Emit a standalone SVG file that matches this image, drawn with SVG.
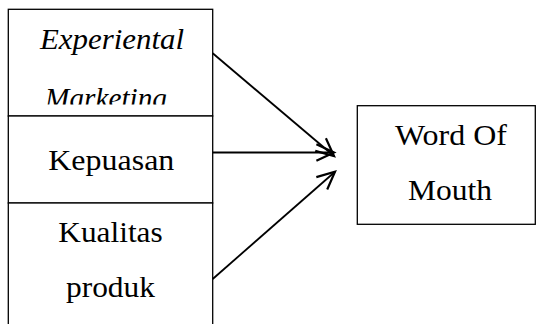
<svg xmlns="http://www.w3.org/2000/svg" width="536" height="324" viewBox="0 0 536 324">
<style>
.box{fill:#fff;stroke:#000;stroke-width:1.3}
.t{font-family:"Liberation Serif","Times New Roman",serif;font-size:29px;fill:#000;text-anchor:middle}
.i{font-style:italic}
.c{fill:none;stroke:#000;stroke-width:1.8}
</style>
<defs>
<marker id="ah" markerUnits="userSpaceOnUse" markerWidth="22" markerHeight="22" refX="17" refY="9" orient="auto" viewBox="0 0 20 18">
<path d="M1,1.5 L17,9 L1,16.5" fill="none" stroke="#000" stroke-width="2"/>
</marker>
<clipPath id="clip1"><rect x="8" y="9" width="205" height="95.5"/></clipPath>
</defs>
<rect width="536" height="324" fill="#fff"/>
<g id="node-experiental">
<rect class="box" x="8.3" y="9.3" width="204.4" height="106.7"/>
<g clip-path="url(#clip1)">
<text class="t i" x="112" y="49.3" textLength="144" lengthAdjust="spacingAndGlyphs">Experiental</text>
<text class="t i" x="106" y="108" textLength="122" lengthAdjust="spacingAndGlyphs">Marketing</text>
</g>
</g>
<g id="node-kepuasan">
<rect class="box" x="8.3" y="116" width="204.4" height="87"/>
<text class="t" x="111.3" y="170" textLength="126" lengthAdjust="spacingAndGlyphs">Kepuasan</text>
</g>
<g id="node-kualitas">
<rect class="box" x="8.3" y="203" width="204.4" height="130"/>
<text class="t" x="110.5" y="242.3" textLength="104.4" lengthAdjust="spacingAndGlyphs">Kualitas</text>
<text class="t" x="110.5" y="297.3" textLength="89" lengthAdjust="spacingAndGlyphs">produk</text>
</g>
<g id="node-wom">
<rect class="box" x="357.3" y="105.7" width="178" height="118.6"/>
<text class="t" x="451" y="145" textLength="112" lengthAdjust="spacingAndGlyphs">Word Of</text>
<text class="t" x="450" y="200" textLength="84" lengthAdjust="spacingAndGlyphs">Mouth</text>
</g>
<g id="connectors">
<line class="c" x1="212.7" y1="53.3" x2="334" y2="156" marker-end="url(#ah)"/>
<line class="c" x1="212.7" y1="152.5" x2="334" y2="152.5" marker-end="url(#ah)"/>
<line class="c" x1="212.7" y1="279" x2="335" y2="171.7" marker-end="url(#ah)"/>
</g>
</svg>
